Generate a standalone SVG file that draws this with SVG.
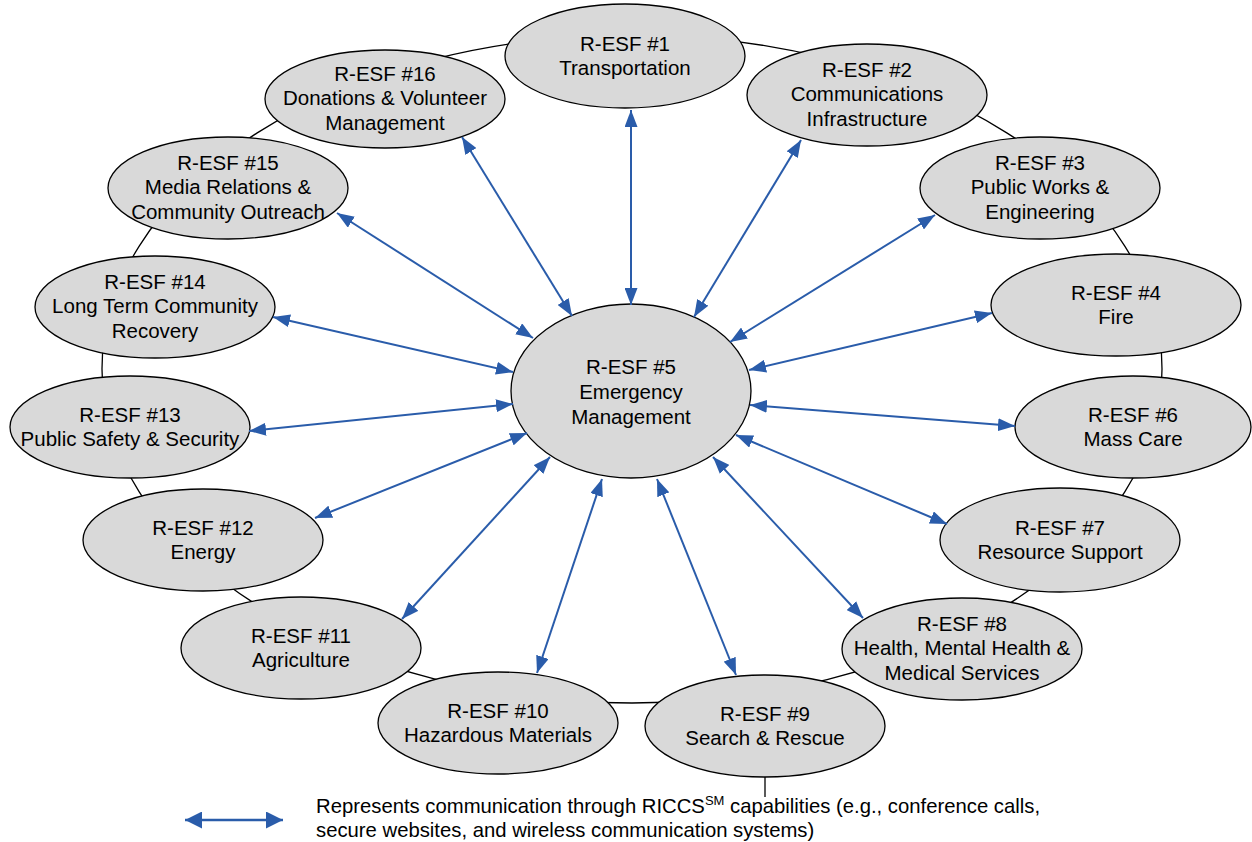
<svg xmlns="http://www.w3.org/2000/svg" width="1252" height="842" viewBox="0 0 1252 842">
<style>
.n ellipse{fill:#D9D9D9;stroke:#000;stroke-width:1.3}
.n text{font-family:"Liberation Sans",Arial,sans-serif;font-size:20.5px;text-anchor:middle;fill:#000}
.c line{stroke:#2A5CAA;stroke-width:2;marker-start:url(#ah);marker-end:url(#ah)}
.lg{font-family:"Liberation Sans",Arial,sans-serif;font-size:20.3px;fill:#000}
</style>
<defs>
<marker id="ah" viewBox="0 0 17 13" refX="17" refY="6.5" markerWidth="17" markerHeight="13" markerUnits="userSpaceOnUse" orient="auto-start-reverse"><path d="M0,0 L17,6.5 L0,13 z" fill="#2A5CAA"/></marker>
<marker id="ah2" viewBox="0 0 17 17" refX="17" refY="8.5" markerWidth="17" markerHeight="17" markerUnits="userSpaceOnUse" orient="auto-start-reverse"><path d="M0,0 L17,8.5 L0,17 z" fill="#2A5CAA"/></marker>
</defs>
<rect width="1252" height="842" fill="#fff"/>
<g id="ring">
<ellipse cx="632" cy="369" rx="530" ry="334" fill="none" stroke="#000" stroke-width="1.3"/>
<line x1="765" y1="777" x2="765" y2="797" stroke="#000" stroke-width="1.3"/>
</g>
<g id="n1" class="n"><ellipse cx="625" cy="56" rx="120" ry="52"/><text x="625" y="51">R-ESF #1</text><text x="625" y="75">Transportation</text></g>
<g id="n2" class="n"><ellipse cx="867" cy="95" rx="120" ry="51"/><text x="867" y="77">R-ESF #2</text><text x="867" y="101">Communications</text><text x="867" y="126">Infrastructure</text></g>
<g id="n3" class="n"><ellipse cx="1040" cy="188" rx="120" ry="51"/><text x="1040" y="170">R-ESF #3</text><text x="1040" y="194">Public Works &amp;</text><text x="1040" y="219">Engineering</text></g>
<g id="n4" class="n"><ellipse cx="1116" cy="305" rx="125" ry="51"/><text x="1116" y="300">R-ESF #4</text><text x="1116" y="324">Fire</text></g>
<g id="n6" class="n"><ellipse cx="1133" cy="427" rx="118" ry="51"/><text x="1133" y="422">R-ESF #6</text><text x="1133" y="446">Mass Care</text></g>
<g id="n7" class="n"><ellipse cx="1060" cy="540" rx="120" ry="52"/><text x="1060" y="535">R-ESF #7</text><text x="1060" y="559">Resource Support</text></g>
<g id="n8" class="n"><ellipse cx="962" cy="649" rx="120" ry="51"/><text x="962" y="631">R-ESF #8</text><text x="962" y="655">Health, Mental Health &amp;</text><text x="962" y="680">Medical Services</text></g>
<g id="n9" class="n"><ellipse cx="765" cy="726" rx="120" ry="51"/><text x="765" y="721">R-ESF #9</text><text x="765" y="745">Search &amp; Rescue</text></g>
<g id="n10" class="n"><ellipse cx="498" cy="723" rx="120" ry="51"/><text x="498" y="718">R-ESF #10</text><text x="498" y="742">Hazardous Materials</text></g>
<g id="n11" class="n"><ellipse cx="301" cy="648" rx="120" ry="51"/><text x="301" y="643">R-ESF #11</text><text x="301" y="667">Agriculture</text></g>
<g id="n12" class="n"><ellipse cx="203" cy="540" rx="120" ry="51"/><text x="203" y="535">R-ESF #12</text><text x="203" y="559">Energy</text></g>
<g id="n13" class="n"><ellipse cx="130" cy="427" rx="120" ry="51"/><text x="130" y="422">R-ESF #13</text><text x="130" y="446">Public Safety &amp; Security</text></g>
<g id="n14" class="n"><ellipse cx="155" cy="307" rx="120" ry="51"/><text x="155" y="289">R-ESF #14</text><text x="155" y="313">Long Term Community</text><text x="155" y="338">Recovery</text></g>
<g id="n15" class="n"><ellipse cx="228" cy="188" rx="120" ry="51"/><text x="228" y="170">R-ESF #15</text><text x="228" y="194">Media Relations &amp;</text><text x="228" y="219">Community Outreach</text></g>
<g id="n16" class="n"><ellipse cx="385" cy="99" rx="120" ry="49"/><text x="385" y="81">R-ESF #16</text><text x="385" y="105">Donations &amp; Volunteer</text><text x="385" y="130">Management</text></g>
<g id="n5" class="n"><ellipse cx="631" cy="391" rx="120" ry="87"/><text x="631" y="374">R-ESF #5</text><text x="631" y="399">Emergency</text><text x="631" y="424">Management</text></g>
<g id="connectors" class="c">
<line x1="631" y1="110" x2="631" y2="305"/>
<line x1="801" y1="140" x2="694" y2="317"/>
<line x1="935" y1="215" x2="730" y2="342"/>
<line x1="992" y1="313" x2="749" y2="370"/>
<line x1="1015" y1="426" x2="750" y2="405"/>
<line x1="947" y1="524" x2="736" y2="435"/>
<line x1="863" y1="618" x2="713" y2="457"/>
<line x1="736" y1="675" x2="657" y2="479"/>
<line x1="537" y1="673" x2="602" y2="479"/>
<line x1="402" y1="619" x2="550" y2="457"/>
<line x1="315" y1="518" x2="527" y2="433"/>
<line x1="249" y1="431" x2="513" y2="404"/>
<line x1="273" y1="317" x2="513" y2="372"/>
<line x1="337" y1="213" x2="533" y2="338"/>
<line x1="462" y1="137" x2="572" y2="316"/>
</g>
<g id="legend">
<line x1="185" y1="820" x2="283" y2="820" stroke="#2A5CAA" stroke-width="2.5" marker-start="url(#ah2)" marker-end="url(#ah2)"/>
<text class="lg" x="316" y="813">Represents communication through RICCS<tspan font-size="13" dy="-8">SM</tspan><tspan dy="8"> capabilities (e.g., conference calls,</tspan></text>
<text class="lg" x="316" y="837">secure websites, and wireless communication systems)</text>
</g>
</svg>
